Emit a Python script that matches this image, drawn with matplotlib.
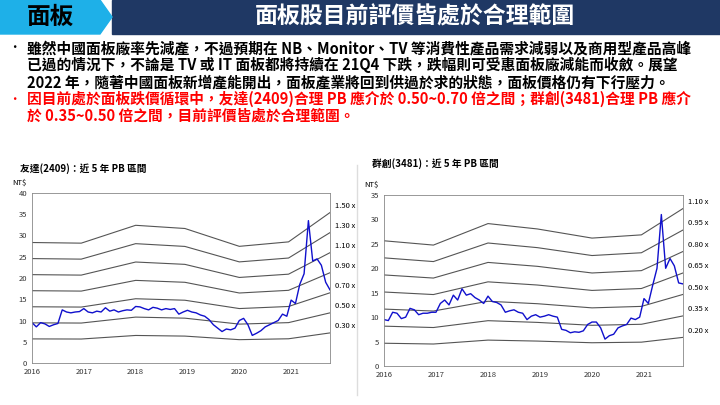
import matplotlib.pyplot as plt
import matplotlib.patches as mpatches
import numpy as np

plt.rcParams['font.family'] = ['Noto Sans CJK TC', 'DejaVu Sans']

years = [2016, 2017, 2018, 2019, 2020, 2021]

# book value per share knots (year, BVPS)
auo_knot_x = [2016.0, 2016.95, 2018.0, 2018.95, 2020.0, 2020.95, 2021.75]
auo_bvps = [18.9, 18.8, 21.6, 21.1, 18.3, 19.0, 23.6]
auo_pb = [1.50, 1.30, 1.10, 0.90, 0.70, 0.50, 0.30]
auo_price = [9.5, 8.5, 9.5, 9.2, 8.6, 9.0, 9.3, 12.5, 12.0, 11.8, 12.0, 12.1,
             12.8, 12.0, 11.8, 12.2, 12.0, 13.0, 12.2, 12.5, 12.0, 12.3, 12.5, 12.4,
             13.3, 13.2, 12.8, 12.5, 13.1, 12.9, 12.5, 12.8, 12.6, 12.8, 11.5, 12.0,
             12.4, 12.0, 11.8, 11.3, 11.0, 10.2, 9.0, 8.2, 7.4, 8.0, 7.8, 8.2,
             10.0, 10.5, 9.0, 6.5, 7.0, 7.6, 8.5, 9.0, 9.5, 10.0, 11.5, 11.0,
             14.8, 14.0, 18.5, 21.0, 33.5, 24.0, 24.5, 23.0, 19.0, 17.2]

inx_knot_x = [2016.0, 2016.95, 2018.0, 2018.95, 2020.0, 2020.95, 2021.75]
inx_bvps = [23.3, 22.5, 26.5, 25.5, 23.8, 24.4, 29.3]
inx_pb = [1.10, 0.95, 0.80, 0.65, 0.50, 0.35, 0.20]
inx_price = [9.5, 9.3, 11.0, 10.8, 9.7, 10.0, 11.8, 11.5, 10.5, 10.8, 10.8, 11.0,
             11.0, 12.8, 13.5, 12.5, 14.5, 13.5, 15.8, 14.5, 14.8, 14.0, 13.5, 12.8,
             14.3, 13.2, 13.0, 12.5, 11.0, 11.3, 11.5, 11.0, 10.8, 9.5, 10.2, 10.5,
             10.0, 10.2, 10.5, 10.2, 10.0, 7.5, 7.3, 6.8, 7.0, 6.9, 7.2, 8.5,
             9.0, 9.0, 7.8, 5.5, 6.2, 6.5, 7.8, 8.2, 8.5, 9.8, 9.5, 10.0,
             13.8, 12.8, 16.5, 20.0, 31.0, 20.0, 22.0, 20.5, 17.0, 16.8]

W, H = 720, 405
fig = plt.figure(figsize=(7.2, 4.05), dpi=100)
fig.patch.set_facecolor('white')

def px(x, y, w, h):
    return [x / W, 1 - (y + h) / H, w / W, h / H]

# header
hdr = fig.add_axes([0, 0, 1, 1], zorder=-1)
hdr.set_xlim(0, W); hdr.set_ylim(H, 0); hdr.axis('off')
hdr.add_patch(mpatches.Rectangle((112, 0), 608, 34, color='#1f3864'))
hdr.add_patch(mpatches.Polygon([(0, 0), (100, 0), (112, 17), (100, 34), (0, 34)], color='#1eb0e8'))
hdr.plot([357, 357], [165, 395], color='#dddddd', lw=1)
fig.text(50 / W, 1 - 17 / H, '面板', fontsize=17, weight='bold', ha='center', va='center')
fig.text(415 / W, 1 - 17 / H, '面板股目前評價皆處於合理範圍', fontsize=16.5, weight='bold',
         color='white', ha='center', va='center')

lines = [('雖然中國面板廠率先減產，不過預期在 NB、Monitor、TV 等消費性產品需求減弱以及商用型產品高峰', 'k', True),
         ('已過的情況下，不論是 TV 或 IT 面板都將持續在 21Q4 下跌，跌幅則可受惠面板廠減能而收斂。展望', 'k', False),
         ('2022 年，隨著中國面板新增產能開出，面板產業將回到供過於求的狀態，面板價格仍有下行壓力。', 'k', False),
         ('因目前處於面板跌價循環中，友達(2409)合理 PB 應介於 0.50~0.70 倍之間；群創(3481)合理 PB 應介', 'red', True),
         ('於 0.35~0.50 倍之間，目前評價皆處於合理範圍。', 'red', False)]
for i, (t, c, bullet) in enumerate(lines):
    y = 1 - (48 + i * 17) / H
    if bullet:
        fig.text(8 / W, y, '•', fontsize=9, color=c, va='center')
    fig.text(27 / W, y, t, fontsize=10.6, weight='bold', color=c, va='center')

def panel(rect, title, title_xy, knot_x, bvps, pb, price, ymax, ystep):
    ax = fig.add_axes(px(*rect))
    t = 2016 + np.arange(len(price)) / 12
    for m in pb:
        band = np.array(bvps) * m
        ax.plot(knot_x, band, color='#555555', lw=0.8)
        ax.text(2021.85, band[-1] + ymax * 0.04, f'{m:.2f} x', fontsize=5.5,
                va='center', clip_on=False)
    ax.plot(t, price, color='#1010cc', lw=1)
    ax.set_xlim(2016, 2021.75)
    ax.set_ylim(0, ymax)
    ax.set_xticks(years)
    ax.set_yticks(np.arange(0, ymax + 1, ystep))
    ax.tick_params(labelsize=5.5, length=0, colors='#333333')
    for s in ax.spines.values():
        s.set_color('#888888'); s.set_linewidth(0.6)
    ax.text(-0.02, 1.05, 'NT$', transform=ax.transAxes, fontsize=5.5, ha='right')
    fig.text(title_xy[0] / W, 1 - title_xy[1] / H, title, fontsize=7, weight='bold')

panel((32, 193, 298, 170), '友達(2409)：近 5 年 PB 區間', (20, 172), auo_knot_x, auo_bvps, auo_pb, auo_price, 40, 5)
panel((384, 195, 299, 171), '群創(3481)：近 5 年 PB 區間', (372, 167), inx_knot_x, inx_bvps, inx_pb, inx_price, 35, 5)

plt.savefig('out.png', dpi=100)
